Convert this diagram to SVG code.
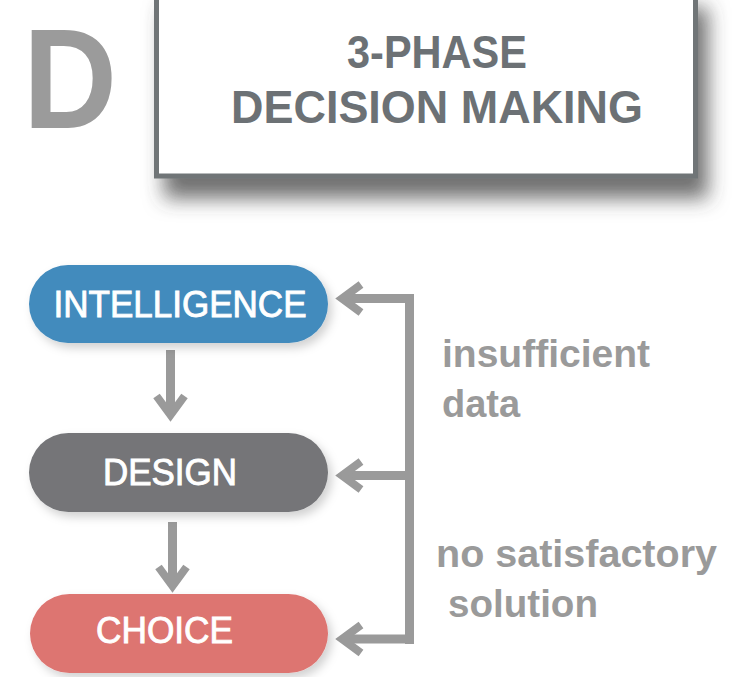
<svg xmlns="http://www.w3.org/2000/svg" width="741" height="677" viewBox="0 0 741 677">
  <style>
    .title { font-family: "Liberation Sans", Arial, sans-serif; font-weight: bold; fill: #6c7175; font-size: 46px; text-anchor: middle; }
    .big { font-family: "Liberation Sans", Arial, sans-serif; font-weight: bold; fill: #9b9b9b; font-size: 142px; }
    .node-text { font-family: "Liberation Sans", Arial, sans-serif; fill: #ffffff; stroke: #ffffff; stroke-width: 0.9; font-size: 36px; text-anchor: middle; }
    .label { font-family: "Liberation Sans", Arial, sans-serif; font-weight: bold; fill: #9a9a9a; font-size: 38px; }
    .line { stroke: #9a9a9a; stroke-width: 9; fill: none; }
    .head { stroke: #9a9a9a; stroke-width: 8; fill: none; stroke-linejoin: miter; stroke-miterlimit: 10; }
  </style>
  <defs>
    <filter id="boxShadow" x="-20%" y="-20%" width="150%" height="170%">
      <feDropShadow dx="10" dy="20" stdDeviation="10" flood-color="#404040" flood-opacity="0.75"/>
    </filter>
    <filter id="nodeShadow" x="-10%" y="-20%" width="130%" height="160%">
      <feDropShadow dx="4" dy="5" stdDeviation="5" flood-color="#000000" flood-opacity="0.18"/>
    </filter>
    <polyline id="chevLeft" class="head" points="26,-14 7,0 26,14"/>
    <polyline id="chevDown" class="head" points="-14,-26 0,-7 14,-26"/>
  </defs>
  <rect width="741" height="677" fill="#ffffff"/>

  <g id="letter">
    <text class="big" x="23" y="128" textLength="94" lengthAdjust="spacingAndGlyphs">D</text>
  </g>

  <g id="title">
    <rect x="156.5" y="-10" width="539" height="186" fill="#ffffff" stroke="#6f7477" stroke-width="5" filter="url(#boxShadow)"/>
    <text class="title" x="437" y="68" textLength="180" lengthAdjust="spacingAndGlyphs">3-PHASE</text>
    <text class="title" x="437" y="123" textLength="412" lengthAdjust="spacingAndGlyphs">DECISION MAKING</text>
  </g>

  <g id="connectors">
    <line class="line" x1="170.5" y1="350" x2="170.5" y2="414"/>
    <use href="#chevDown" x="170.5" y="422"/>
    <line class="line" x1="172.5" y1="522" x2="172.5" y2="585"/>
    <use href="#chevDown" x="172.5" y="593"/>
    <line class="line" x1="409.5" y1="294" x2="409.5" y2="644"/>
    <line class="line" x1="343" y1="298.5" x2="414" y2="298.5"/>
    <line class="line" x1="343" y1="475.5" x2="409.5" y2="475.5"/>
    <line class="line" x1="343" y1="639" x2="414" y2="639"/>
    <use href="#chevLeft" x="335" y="298.5"/>
    <use href="#chevLeft" x="335" y="475.5"/>
    <use href="#chevLeft" x="335" y="639"/>
  </g>

  <g id="intelligence">
    <rect x="29" y="265" width="299" height="78" rx="39" fill="#438bbd" filter="url(#nodeShadow)"/>
    <text class="node-text" x="180" y="317" textLength="253" lengthAdjust="spacingAndGlyphs">INTELLIGENCE</text>
  </g>

  <g id="design">
    <rect x="29" y="433" width="299" height="79" rx="39.5" fill="#747578" filter="url(#nodeShadow)"/>
    <text class="node-text" x="170" y="485" textLength="134" lengthAdjust="spacingAndGlyphs">DESIGN</text>
  </g>

  <g id="choice">
    <rect x="30" y="594" width="298" height="79" rx="39.5" fill="#dd7471" filter="url(#nodeShadow)"/>
    <text class="node-text" x="164.5" y="643" textLength="137" lengthAdjust="spacingAndGlyphs">CHOICE</text>
  </g>

  <g id="labels">
    <text class="label" x="442" y="367" textLength="208" lengthAdjust="spacingAndGlyphs">insufficient</text>
    <text class="label" x="442" y="417">data</text>
    <text class="label" x="436" y="567" textLength="281" lengthAdjust="spacingAndGlyphs">no satisfactory</text>
    <text class="label" x="448" y="617" textLength="150" lengthAdjust="spacingAndGlyphs">solution</text>
  </g>
</svg>
